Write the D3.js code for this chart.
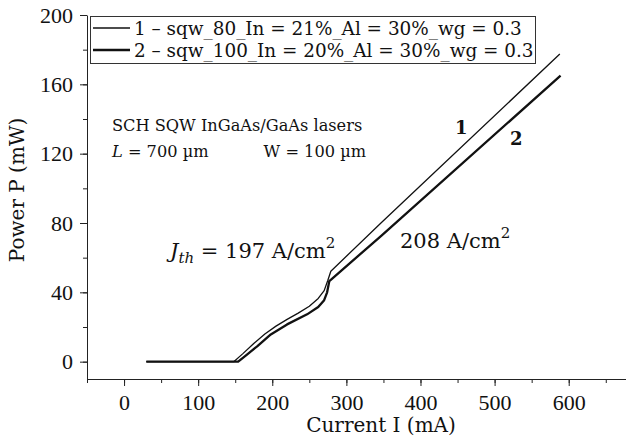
<!DOCTYPE html>
<html>
<head>
<meta charset="utf-8">
<script src="https://cdn.jsdelivr.net/npm/d3@7"></script>
<style>
  body { margin: 0; background: #fff; }
  svg { display: block; font-family: "DejaVu Serif", serif; }
</style>
</head>
<body>
<svg id="chart" width="626" height="443"></svg>
<script>
// curve 1: sqw_80, In = 21%
const current1 = [30, 148, 160, 175, 190, 205, 220, 235, 250, 262, 270, 275, 279, 347, 588];
const power1   = [0, 0, 4.5, 10.5, 16, 20.5, 24.4, 28, 32, 36.5, 41, 47, 52.2, 80.1, 177.5];
// curve 2: sqw_100, In = 20%
const current2 = [30, 154, 165, 180, 198, 220, 247, 262, 270, 274, 277, 347, 589];
const power2   = [0, 0, 3.8, 9, 15.7, 21.5, 27.3, 31.5, 35.5, 40, 46.5, 72.6, 165];

const seriesNames = [
  "1 \u2013 sqw_80_In = 21%_Al = 30%_wg = 0.3",
  "2 \u2013 sqw_100_In = 20%_Al = 30%_wg = 0.3"
];
const xTicks = [0, 100, 200, 300, 400, 500, 600];
const yTicks = [0, 40, 80, 120, 160, 200];

const svg = d3.select("#chart");

const x = d3.scaleLinear().domain([-50, 680]).range([87, 628]);
const y = d3.scaleLinear().domain([-10, 200]).range([379, 15]);

// axes
const xMinor = d3.range(-50, 680, 50);
const yMinor = d3.range(0, 201, 20);

svg.append("g")
    .attr("transform", "translate(0,379)")
    .call(d3.axisBottom(x).tickValues(xMinor).tickSize(4).tickFormat(""))
    .call(g => g.select(".domain").remove())
    .selectAll("line").attr("stroke", "#222");

const xAxis = svg.append("g")
    .attr("transform", "translate(0,379)")
    .call(d3.axisBottom(x).tickValues(xTicks).tickSize(7).tickSizeOuter(0).tickPadding(8));
xAxis.select(".domain").attr("stroke", "#222");
xAxis.selectAll("line").attr("stroke", "#222");
xAxis.selectAll("text").attr("font-size", 22).attr("fill", "#111")
    .attr("font-family", "Liberation Serif");

svg.append("g")
    .attr("transform", "translate(87,0)")
    .call(d3.axisLeft(y).tickValues(yMinor).tickSize(4).tickFormat(""))
    .call(g => g.select(".domain").remove())
    .selectAll("line").attr("stroke", "#222");

const yAxis = svg.append("g")
    .attr("transform", "translate(87,0)")
    .call(d3.axisLeft(y).tickValues(yTicks).tickSize(7).tickSizeOuter(0).tickPadding(7));
yAxis.select(".domain").attr("stroke", "#222");
yAxis.selectAll("line").attr("stroke", "#222");
yAxis.selectAll("text").attr("font-size", 22).attr("fill", "#111")
    .attr("font-family", "Liberation Serif");

// axis titles
svg.append("text")
    .attr("x", 381).attr("y", 432)
    .attr("text-anchor", "middle")
    .attr("font-size", 20).attr("fill", "#111")
    .text("Current I (mA)");

svg.append("text")
    .attr("transform", "translate(24,190) rotate(-90)")
    .attr("text-anchor", "middle")
    .attr("font-size", 20).attr("fill", "#111")
    .text("Power P (mW)");

// curves
const line = d3.line().x(d => x(d[0])).y(d => y(d[1]));
const data1 = current1.map((c, i) => [c, power1[i]]);
const data2 = current2.map((c, i) => [c, power2[i]]);

svg.append("path").datum(data2)
    .attr("d", line).attr("fill", "none")
    .attr("stroke", "#111").attr("stroke-width", 2.3)
    .attr("stroke-linejoin", "round");
svg.append("path").datum(data1)
    .attr("d", line).attr("fill", "none")
    .attr("stroke", "#111").attr("stroke-width", 1.3)
    .attr("stroke-linejoin", "round");

// legend
const legend = svg.append("g");
legend.append("rect")
    .attr("x", 90.5).attr("y", 16.5).attr("width", 445).attr("height", 47)
    .attr("fill", "#fff").attr("stroke", "#333").attr("stroke-width", 1);
seriesNames.forEach((name, i) => {
  const yy = 28 + i * 22;
  legend.append("line")
      .attr("x1", 93).attr("x2", 130).attr("y1", yy).attr("y2", yy)
      .attr("stroke", "#111").attr("stroke-width", i === 0 ? 1.3 : 2.3);
  legend.append("text")
      .attr("x", 134).attr("y", yy + 6.5)
      .attr("font-size", 18.4).attr("fill", "#111")
      .text(name);
});

// annotations
svg.append("text")
    .attr("x", 112).attr("y", 131)
    .attr("font-size", 16.2).attr("fill", "#111")
    .text("SCH SQW InGaAs/GaAs lasers");

const lt = svg.append("text")
    .attr("x", 112).attr("y", 157)
    .attr("font-size", 16.2).attr("fill", "#111");
lt.append("tspan").attr("font-style", "italic").text("L");
lt.append("tspan").text(" = 700 \u00b5m");

svg.append("text")
    .attr("x", 366).attr("y", 157)
    .attr("text-anchor", "end")
    .attr("font-size", 16.2).attr("fill", "#111")
    .text("W = 100 \u00b5m");

const jt = svg.append("text")
    .attr("x", 170).attr("y", 258)
    .attr("font-size", 21).attr("fill", "#111");
jt.append("tspan").attr("font-style", "italic").text("J");
jt.append("tspan").attr("font-style", "italic").attr("font-size", 15).attr("dy", 5).text("th");
jt.append("tspan").attr("dy", -5).text(" = 197 A/cm");
jt.append("tspan").attr("font-size", 15).attr("dy", -10).text("2");

const jt2 = svg.append("text")
    .attr("x", 400).attr("y", 248)
    .attr("font-size", 21).attr("fill", "#111");
jt2.append("tspan").text("208 A/cm");
jt2.append("tspan").attr("font-size", 15).attr("dy", -10).text("2");

svg.append("text")
    .attr("x", 455).attr("y", 134)
    .attr("font-size", 18).attr("font-weight", "bold").attr("fill", "#111")
    .text("1");
svg.append("text")
    .attr("x", 510).attr("y", 145)
    .attr("font-size", 18).attr("font-weight", "bold").attr("fill", "#111")
    .text("2");
</script>
</body>
</html>
